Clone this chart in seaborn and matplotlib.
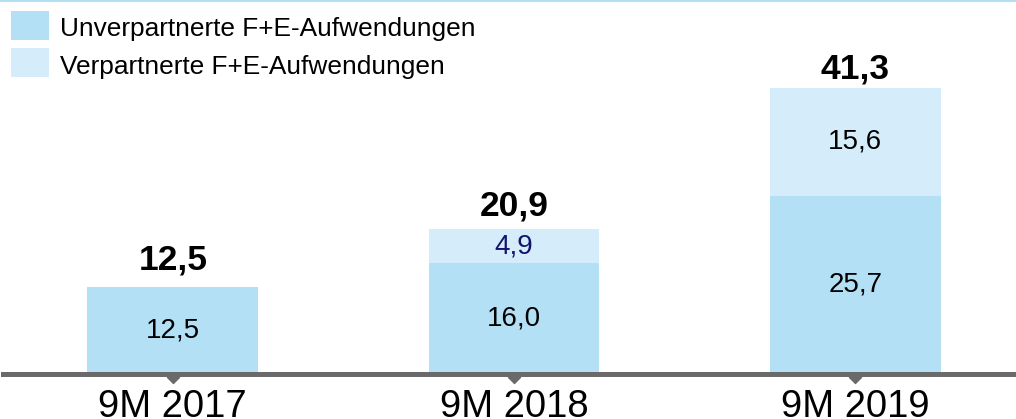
import matplotlib
matplotlib.use("Agg")
import matplotlib.pyplot as plt
from matplotlib.patches import Rectangle
from matplotlib.path import Path
from matplotlib.lines import Line2D
import seaborn as sns
import pandas as pd

# ---- data ----
categories = ["9M 2017", "9M 2018", "9M 2019"]
unpartnered = [12.5, 16.0, 25.7]
partnered = [0.0, 4.9, 15.6]
totals = [12.5, 20.9, 41.3]
series_names = ["Unverpartnerte F+E-Aufwendungen", "Verpartnerte F+E-Aufwendungen"]

# ---- style ----
DARK = "#b3e0f5"
LIGHT = "#d5edfa"
AXIS = "#6a6a6a"
NAVY = "#141470"

sns.set_theme(style="white")
plt.rcParams["font.family"] = ["Liberation Sans", "DejaVu Sans"]
plt.rcParams["text.color"] = "black"

W, H = 1016, 419
fig = plt.figure(figsize=(W / 100, H / 100), dpi=100)
px_per_unit = 6.93
base_px = 45  # from bottom
left_px = 2.5
ax = fig.add_axes([left_px / W, base_px / H, 1 - left_px / W, (H - base_px) / H])

df = pd.DataFrame({"cat": categories, "unp": unpartnered, "tot": totals})

sns.barplot(data=df, x="cat", y="tot", order=categories, color=LIGHT, saturation=1,
            width=0.5, errorbar=None, ax=ax, linewidth=0, zorder=1)
sns.barplot(data=df, x="cat", y="unp", order=categories, color=DARK, saturation=1,
            width=0.5, errorbar=None, ax=ax, linewidth=0, zorder=2)

ax.set_xlim(-0.499, 2.471)
ax.set_ylim(0, (H - base_px) / px_per_unit)
ax.set_xlabel("")
ax.set_ylabel("")
ax.set_yticks([])

for s in ["left", "right", "top"]:
    ax.spines[s].set_visible(False)
ax.spines["bottom"].set_color(AXIS)
ax.spines["bottom"].set_linewidth(5 * 0.72)
ax.spines["bottom"].set_zorder(5)
ax.tick_params(axis="x", length=0, pad=11, labelsize=27.5, labelcolor="black")

# tick triangles
tri = Path([(-1, 0), (1, 0), (0, -1), (-1, 0)], [Path.MOVETO, Path.LINETO, Path.LINETO, Path.CLOSEPOLY])
tri_y = -3.0 / px_per_unit
ax.plot(range(len(categories)), [tri_y] * len(categories), linestyle="none", marker=tri,
        markersize=12 * 0.72, color=AXIS, clip_on=False, zorder=6)


def fmt(v):
    return f"{v:.1f}".replace(".", ",")


pads_px = [18, 14, 9]
for i in range(len(categories)):
    u, p, t = unpartnered[i], partnered[i], totals[i]
    ax.text(i, u / 2, fmt(u), ha="center", va="center", fontsize=20, color="black", zorder=7)
    if p > 0:
        ax.text(i, u + p / 2, fmt(p), ha="center", va="center", fontsize=20,
                color=NAVY if p < 10 else "black", zorder=7)
    ax.text(i, t + pads_px[i] / px_per_unit, fmt(t), ha="center", va="baseline",
            fontsize=25.5, fontweight="bold", color="black", zorder=7)

# top line
fig.add_artist(Line2D([0, 1], [1 - 1 / H, 1 - 1 / H], transform=fig.transFigure, color=DARK, linewidth=1.5))

# legend (manual)
leg_colors = [DARK, LIGHT]
for k, (name, col) in enumerate(zip(series_names, leg_colors)):
    top = 11 + 37 * k
    fig.add_artist(Rectangle((11 / W, 1 - (top + 29) / H), 38 / W, 29 / H,
                             transform=fig.transFigure, facecolor=col, edgecolor="none"))
    fig.text(60 / W, 1 - (36 + 38 * k) / H, name, ha="left", va="baseline",
             fontsize=18.9, color="black")

fig.savefig("out.png", dpi=100)
